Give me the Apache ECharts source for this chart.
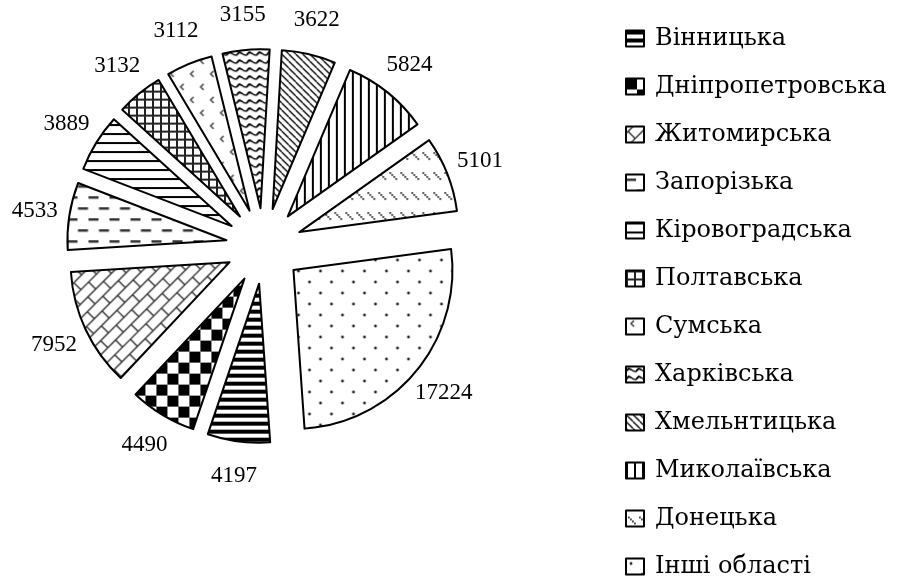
<!DOCTYPE html>
<html>
<head>
<meta charset="utf-8">
<script src="https://cdn.jsdelivr.net/npm/echarts@6/dist/echarts.min.js"></script>
<style>
  html, body { margin: 0; padding: 0; background: #fff; }
  #main { width: 903px; height: 579px; }
</style>
</head>
<body>
<div id="main"></div>
<script>
  // дані діаграми
  const regions = ['Вінницька', 'Дніпропетровська', 'Житомирська', 'Запорізька', 'Кіровоградська',
    'Полтавська', 'Сумська', 'Харківська', 'Хмельнтицька', 'Миколаївська', 'Донецька', 'Інші області'];
  const values = [4197, 4490, 7952, 4533, 3889, 3132, 3112, 3155, 3622, 5824, 5101, 17224];

  // геометрія кола
  const CX = 264, CY = 246, R = 159, OFF = 38, START = -86, LABEL_GAP = 35;

  // маленька плитка для візерунка
  function tile(w, h, draw) {
    const c = document.createElement('canvas');
    c.width = w; c.height = h;
    const ctx = c.getContext('2d');
    ctx.fillStyle = '#fff';
    ctx.fillRect(0, 0, w, h);
    draw(ctx, w, h);
    return c;
  }

  const patterns = [
    // Вінницька - товсті горизонтальні смуги
    tile(8, 8, (g) => { g.fillStyle = '#000'; g.fillRect(0, 0, 8, 4); }),
    // Дніпропетровська - шахівниця
    tile(22, 22, (g) => { g.fillStyle = '#000'; g.fillRect(0, 0, 11, 11); g.fillRect(11, 11, 11, 11); }),
    // Житомирська - цегла по діагоналі (велике полотно)
    tile(1000, 700, (g) => {
      g.strokeStyle = '#333'; g.lineWidth = 1.4;
      g.translate(0, 700);
      g.rotate(-Math.PI / 4);
      for (let r = -80; r < 160; r++) {
        const y = r * 10;
        g.beginPath(); g.moveTo(-200, y); g.lineTo(1400, y); g.stroke();
        const off = (r % 2 === 0) ? 0 : 11;
        for (let x = -200 + off; x < 1400; x += 22) {
          g.beginPath(); g.moveTo(x, y); g.lineTo(x, y + 10); g.stroke();
        }
      }
    }),
    // Запорізька - горизонтальні штрихи
    tile(21, 22, (g) => { g.fillStyle = '#333'; g.fillRect(0, 4, 10, 2.5); g.fillRect(10.5, 15, 10, 2.5); }),
    // Кіровоградська - горизонтальні лінії
    tile(4, 9, (g) => { g.fillStyle = '#000'; g.fillRect(0, 0, 4, 2); }),
    // Полтавська - сітка
    tile(8, 8, (g) => { g.fillStyle = '#222'; g.fillRect(0, 0, 8, 2); g.fillRect(0, 0, 2, 8); }),
    // Сумська - дрібні кутики
    tile(20, 26, (g) => {
      g.strokeStyle = '#444'; g.lineWidth = 1.5;
      [[5, 5], [15, 18]].forEach(([x, y]) => {
        g.beginPath(); g.moveTo(x + 3, y - 3); g.lineTo(x, y); g.lineTo(x + 3, y + 3); g.stroke();
      });
    }),
    // Харківська - хвилясті лінії
    tile(10, 8, (g) => {
      g.strokeStyle = '#000'; g.lineWidth = 1.5;
      g.beginPath(); g.moveTo(0, 5); g.quadraticCurveTo(2.5, 1, 5, 3);
      g.quadraticCurveTo(7.5, 5, 10, 5); g.stroke();
      g.beginPath(); g.moveTo(0, 5); g.lineTo(2.5, 2); g.lineTo(5, 3); g.stroke();
    }),
    // Хмельнтицька - діагональ \
    tile(7, 7, (g) => {
      g.strokeStyle = '#000'; g.lineWidth = 1.3;
      for (let k = -1; k <= 1; k++) { g.beginPath(); g.moveTo(k * 7, 0); g.lineTo(k * 7 + 7, 7); g.stroke(); }
    }),
    // Миколаївська - вертикальні лінії
    tile(8, 4, (g) => { g.fillStyle = '#000'; g.fillRect(0, 0, 2, 4); }),
    // Донецька - пунктирні діагоналі
    tile(11, 20, (g) => {
      g.fillStyle = '#333';
      for (let i = 0; i < 4; i++) { g.fillRect(2 + i * 2, 6 + i * 2, 1.8, 1.8); }
    }),
    // Інші області - точки
    tile(22, 22, (g) => {
      g.fillStyle = '#222';
      [[5, 5], [16, 16]].forEach(([x, y]) => { g.beginPath(); g.arc(x, y, 1.4, 0, Math.PI * 2); g.fill(); });
    })
  ];

  // середній кут кожного сектора (за годинниковою від START)
  const total = values.reduce((a, b) => a + b, 0);
  const midAngles = [];
  let acc = 0;
  values.forEach((v) => {
    midAngles.push((START - (acc + v / 2) / total * 360) * Math.PI / 180);
    acc += v;
  });

  const chart = echarts.init(document.getElementById('main'));

  const option = {
    animation: false,
    backgroundColor: '#fff',
    legend: {
      orient: 'vertical',
      left: 625,
      top: 26.5,
      height: 560,
      padding: 0,
      itemWidth: 18,
      itemHeight: 16,
      itemGap: 24,
      icon: 'rect',
      itemStyle: { borderColor: '#000', borderWidth: 2 },
      textStyle: {
        fontFamily: 'DejaVu Serif',
        fontSize: 24,
        lineHeight: 24,
        color: '#000',
        padding: [0, 0, 0, 6]
      },
      data: regions
    },
    series: [
      // розсунуті сектори
      {
        type: 'pie',
        center: [CX, CY],
        radius: R,
        startAngle: START,
        clockwise: true,
        selectedMode: 'multiple',
        selectedOffset: OFF,
        emphasis: { disabled: true },
        itemStyle: { borderColor: '#000', borderWidth: 2 },
        select: { itemStyle: { borderColor: '#000', borderWidth: 2 } },
        label: { show: false },
        labelLine: { show: false },
        data: regions.map((name, i) => ({
          name: name,
          value: values[i],
          selected: true,
          itemStyle: { color: { image: patterns[i], repeat: 'repeat' } }
        }))
      },
      // підписи значень (прозорий дублікат без зсуву)
      {
        type: 'pie',
        center: [CX, CY],
        radius: R,
        startAngle: START,
        clockwise: true,
        silent: true,
        avoidLabelOverlap: false,
        itemStyle: { color: 'rgba(0,0,0,0)', borderWidth: 0 },
        label: {
          show: true,
          position: 'outside',
          formatter: '{c}',
          fontFamily: 'Liberation Serif',
          fontSize: 23,
          color: '#000'
        },
        labelLine: { show: false },
        labelLayout: function (params) {
          const a = midAngles[params.dataIndex];
          const d = OFF + R + LABEL_GAP;
          return {
            x: CX + d * Math.cos(a),
            y: CY - d * Math.sin(a),
            align: 'center',
            verticalAlign: 'middle'
          };
        },
        data: regions.map((name, i) => ({ name: name, value: values[i] }))
      }
    ]
  };

  chart.setOption(option);
</script>
</body>
</html>
